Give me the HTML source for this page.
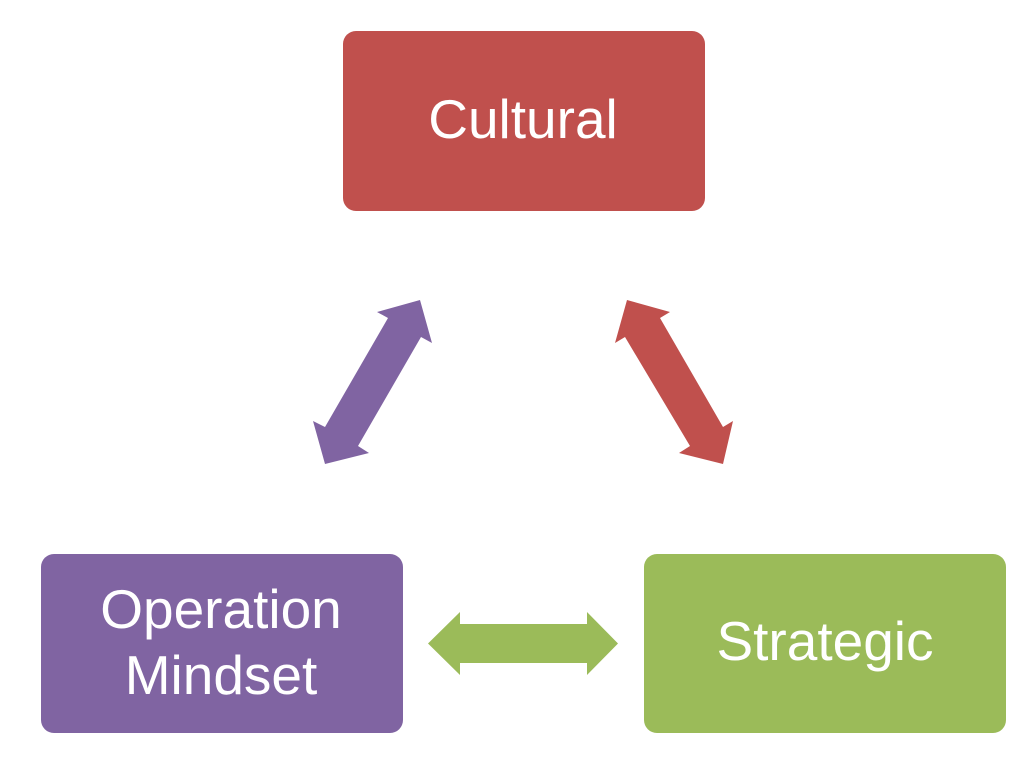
<!DOCTYPE html>
<html>
<head>
<meta charset="utf-8">
<style>
  html,body{margin:0;padding:0;background:#fff;}
  svg{display:block;}
  text{font-family:"Liberation Sans", sans-serif;fill:#fff;font-size:55px;}
</style>
</head>
<body>
<svg width="1024" height="759" viewBox="0 0 1024 759" xmlns="http://www.w3.org/2000/svg">
  <rect x="0" y="0" width="1024" height="759" fill="#fff"/>
  <!-- Boxes -->
  <rect x="343" y="31" width="362" height="180" rx="13" ry="13" fill="#C0504D"/>
  <rect x="41" y="554" width="362" height="179" rx="13" ry="13" fill="#8064A2"/>
  <rect x="644" y="554" width="362" height="179" rx="13" ry="13" fill="#9BBB59"/>

  <!-- Labels -->
  <text x="523" y="138" text-anchor="middle">Cultural</text>
  <text x="221" y="628" text-anchor="middle">Operation</text>
  <text x="221" y="694" text-anchor="middle">Mindset</text>
  <text x="825" y="660" text-anchor="middle">Strategic</text>

  <!-- Purple double arrow -->
  <polygon fill="#8064A2" points="420,300 432,343 421,337 358,446 369,453 325,464 313,421 325,427 388,318 377,312"/>
  <!-- Red double arrow -->
  <polygon fill="#C0504D" points="627,300 670,312 660,318 723,427 733,421 723,464 679,453 690,446 625,337 615,343"/>
  <!-- Green double arrow -->
  <polygon fill="#9BBB59" points="428,643.5 460,612 460,624 587,624 587,612 618,643.5 587,675 587,663 460,663 460,675"/>
</svg>
</body>
</html>
